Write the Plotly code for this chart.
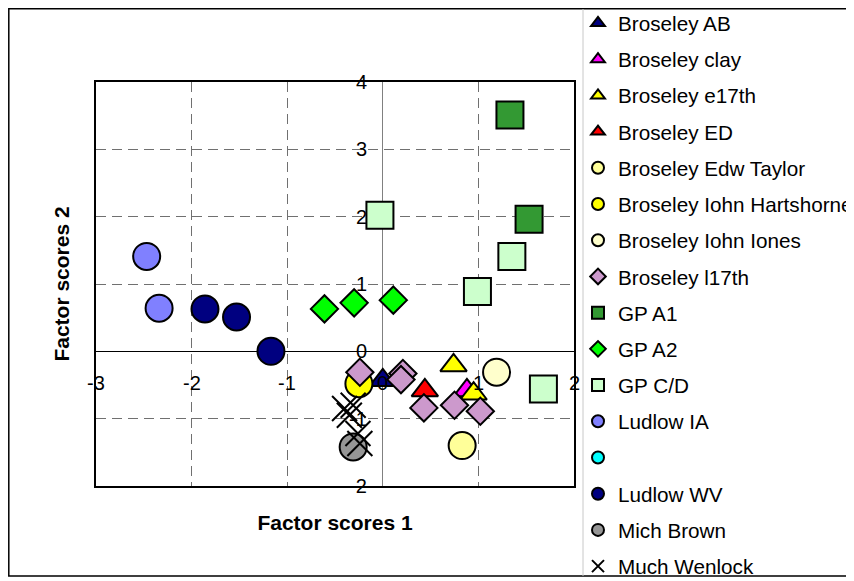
import plotly.graph_objects as go

# ---- data ----
series_names = ["Broseley AB", "Broseley clay", "Broseley e17th", "Broseley ED",
                "Broseley Edw Taylor", "Broseley Iohn Hartshorne", "Broseley Iohn Iones",
                "Broseley l17th", "GP A1", "GP A2", "GP C/D", "Ludlow IA", " ",
                "Ludlow WV", "Mich Brown", "Much Wenlock"]

broseley_ab_x = [0.00]
broseley_ab_y = [-0.43]
broseley_clay_x = [0.88]
broseley_clay_y = [-0.58]
broseley_e17th_x = [0.74, 0.95]
broseley_e17th_y = [-0.21, -0.63]
broseley_ed_x = [0.44]
broseley_ed_y = [-0.58]
edw_taylor_x = [0.83]
edw_taylor_y = [-1.40]
hartshorne_x = [-0.25]
hartshorne_y = [-0.48]
iohn_iones_x = [1.19]
iohn_iones_y = [-0.31]
l17th_x = [-0.24, 0.21, 0.19, 0.43, 0.75, 1.02]
l17th_y = [-0.31, -0.33, -0.42, -0.84, -0.80, -0.89]
gp_a1_x = [1.33, 1.53]
gp_a1_y = [3.51, 1.96]
gp_a2_x = [-0.61, -0.30, 0.11]
gp_a2_y = [0.63, 0.72, 0.76]
gp_cd_x = [-0.03, 1.35, 0.99, 1.68]
gp_cd_y = [2.02, 1.41, 0.89, -0.56]
ludlow_ia_x = [-2.47, -2.34]
ludlow_ia_y = [1.41, 0.64]
unnamed_x = [None]
unnamed_y = [None]
ludlow_wv_x = [-1.86, -1.53, -1.17]
ludlow_wv_y = [0.63, 0.51, 0.00]
mich_brown_x = [-0.31]
mich_brown_y = [-1.42]
much_wenlock_x = [-0.40, -0.31, -0.35, -0.26, -0.24]
much_wenlock_y = [-0.85, -0.80, -0.95, -1.22, -1.37]

x_tick_vals = [-3, -2, -1, 0, 1, 2]
x_tick_text = ["-3", "-2", "-1", "0", "1", "2"]
y_tick_vals = [-2, -1, 0, 1, 2, 3, 4]
y_tick_text = ["-2", "-1", "0", "1", "2", "3", "4"]

xs = [broseley_ab_x, broseley_clay_x, broseley_e17th_x, broseley_ed_x, edw_taylor_x,
      hartshorne_x, iohn_iones_x, l17th_x, gp_a1_x, gp_a2_x, gp_cd_x, ludlow_ia_x,
      unnamed_x, ludlow_wv_x, mich_brown_x, much_wenlock_x]
ys = [broseley_ab_y, broseley_clay_y, broseley_e17th_y, broseley_ed_y, edw_taylor_y,
      hartshorne_y, iohn_iones_y, l17th_y, gp_a1_y, gp_a2_y, gp_cd_y, ludlow_ia_y,
      unnamed_y, ludlow_wv_y, mich_brown_y, much_wenlock_y]

# ---- styles ----
symbols = ["triangle-up", "triangle-up", "triangle-up", "triangle-up", "circle", "circle",
           "circle", "diamond", "square", "diamond", "square", "circle", "circle",
           "circle", "circle", "x-thin-open"]
colors = ["#000080", "#FF00FF", "#FFFF00", "#FF0000", "#FFFF99", "#FFFF00", "#FFFFCC",
          "#CC99CC", "#339933", "#00FF00", "#CCFFCC", "#8080FF", "#00FFFF", "#000080",
          "#969696", "#000000"]
size_by_symbol = {"triangle-up": 23, "circle": 27, "diamond": 21, "square": 27, "x-thin-open": 25}

fig = go.Figure()
for i, name in enumerate(series_names):
    sym = symbols[i]
    if sym == "x-thin-open":
        marker = dict(symbol=sym, size=size_by_symbol[sym], color="black",
                      line=dict(color="black", width=2))
    else:
        marker = dict(symbol=sym, size=size_by_symbol[sym], color=colors[i],
                      line=dict(color="black", width=2))
    fig.add_trace(go.Scatter(x=xs[i], y=ys[i], mode="markers", name=name,
                             legendgroup=f"g{i}", marker=marker, hoverinfo="skip"))

# tick labels placed along the crossing axes
annotations = []
for v, t in zip(x_tick_vals, x_tick_text):
    annotations.append(dict(x=v, y=0, xref="x", yref="y", text=t, showarrow=False,
                            yshift=-32, font=dict(size=20, color="black")))
for v, t in zip(y_tick_vals, y_tick_text):
    annotations.append(dict(x=0, y=v, xref="x", yref="y", text=t, showarrow=False,
                            xanchor="right", xshift=-14, font=dict(size=20, color="black")))

# the page body adds an 8px offset; lay out in screen pixels minus that offset
OFF = 8
W, H = 854 - OFF, 581 - OFF
L, R, T, B = 96 - OFF, 574 - OFF, 82 - OFF, 486 - OFF
pw, ph = R - L, B - T


def px_to_paper_x(sx):
    return (sx - OFF - L) / pw


def px_to_paper_y(sy):
    return (B - (sy - OFF)) / ph


shapes = [
    dict(type="rect", xref="paper", yref="paper",
         x0=px_to_paper_x(8.8), x1=px_to_paper_x(860),
         y0=px_to_paper_y(576), y1=px_to_paper_y(8.8),
         line=dict(color="black", width=1.5)),
    dict(type="line", xref="paper", yref="paper",
         x0=px_to_paper_x(583), x1=px_to_paper_x(583),
         y0=px_to_paper_y(576), y1=px_to_paper_y(9),
         line=dict(color="#c8c8c8", width=1)),
]

axis_common = dict(showgrid=True, gridcolor="#707070", griddash="10px,6px", gridwidth=1,
                   showline=True, linecolor="black", linewidth=2, mirror=True,
                   showticklabels=False, ticks="", dtick=1, automargin=False)

fig.update_layout(
    width=W, height=H,
    margin=dict(l=L, r=W - R, t=T, b=H - B, autoexpand=False),
    paper_bgcolor="white", plot_bgcolor="white",
    font=dict(family="Arial, Liberation Sans, sans-serif", color="black"),
    xaxis=dict(range=[-3, 2], zeroline=True, zerolinecolor="#808080", zerolinewidth=1,
               title=dict(text="Factor scores 1", standoff=28,
                          font=dict(size=21, weight="bold")),
               **axis_common),
    yaxis=dict(range=[-2, 4], zeroline=True, zerolinecolor="#000000", zerolinewidth=1,
               title=dict(text="Factor scores 2", standoff=19,
                          font=dict(size=21, weight="bold")),
               **axis_common),
    legend=dict(x=px_to_paper_x(578), xanchor="left", y=px_to_paper_y(3), yanchor="top",
                font=dict(size=20.7), itemsizing="constant", tracegroupgap=6.3,
                bgcolor="rgba(0,0,0,0)", borderwidth=0, maxheight=2000),
    showlegend=True,
    annotations=annotations,
    shapes=shapes,
)

fig.write_html("out.html")
